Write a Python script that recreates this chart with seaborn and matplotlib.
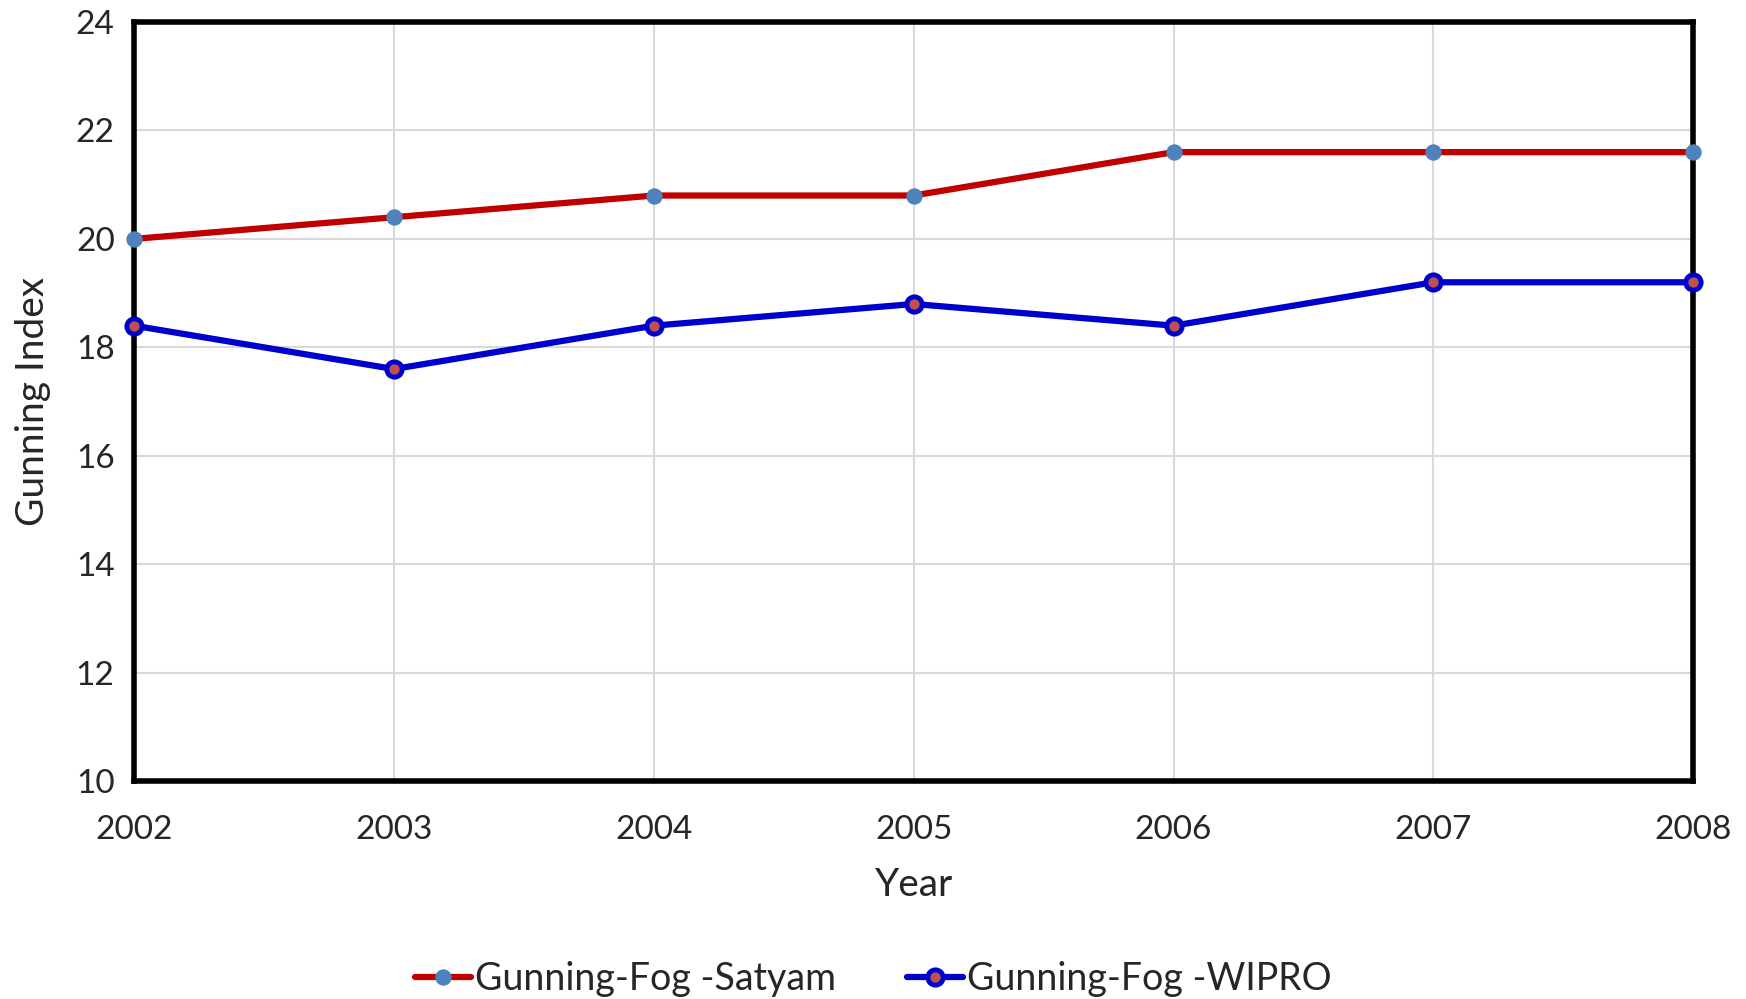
import matplotlib
matplotlib.use("Agg")
import matplotlib.pyplot as plt
import seaborn as sns
import pandas as pd

# Chart data
years = [2002, 2003, 2004, 2005, 2006, 2007, 2008]
satyam = [20.0, 20.4, 20.8, 20.8, 21.6, 21.6, 21.6]
wipro = [18.4, 17.6, 18.4, 18.8, 18.4, 19.2, 19.2]
y_ticks = [10, 12, 14, 16, 18, 20, 22, 24]

df = pd.DataFrame({"Year": years, "Satyam": satyam, "WIPRO": wipro})

sns.set_style("white")
plt.rcParams["font.family"] = ["Lato", "DejaVu Sans"]

fig = plt.figure(figsize=(17.46, 9.99), dpi=100)
ax = fig.add_axes([0.0768, 0.218, 0.893, 0.76])

# Satyam series
sns.lineplot(x="Year", y="Satyam", data=df, ax=ax, color="#C00000",
             linewidth=4.5, marker="o", markersize=11,
             markerfacecolor="#4F81BD", markeredgecolor="#4F81BD",
             label="Gunning-Fog -Satyam", clip_on=False, zorder=3)

# WIPRO series
sns.lineplot(x="Year", y="WIPRO", data=df, ax=ax, color="#0000CC",
             linewidth=4.5, marker="o", markersize=11,
             markerfacecolor="#C0504D", markeredgecolor="#0000CC",
             markeredgewidth=3.5,
             label="Gunning-Fog -WIPRO", clip_on=False, zorder=3)

ax.set_xlim(2002, 2008)
ax.set_ylim(10, 24)
ax.set_xticks(years)
ax.set_yticks(y_ticks)
ax.grid(True, color="#D9D9D9", linewidth=1.5)
ax.set_axisbelow(True)

for side in ["left", "right", "top", "bottom"]:
    ax.spines[side].set_color("black")
    ax.spines[side].set_linewidth(4)

ax.tick_params(axis="both", labelsize=24, length=0)
ax.tick_params(axis="y", pad=14)
ax.tick_params(axis="x", pad=24)
ax.set_xlabel("Year", fontsize=28, labelpad=16)
ax.set_ylabel("Gunning Index", fontsize=28, labelpad=18)

handles, labels = ax.get_legend_handles_labels()
ax.get_legend().remove()
fig.legend(handles, labels, loc="center", bbox_to_anchor=(0.5, 0.02),
           ncol=2, frameon=False, fontsize=27, handlelength=1.5,
           handletextpad=0.1, columnspacing=1.9)

fig.savefig("out.png", dpi=100)
